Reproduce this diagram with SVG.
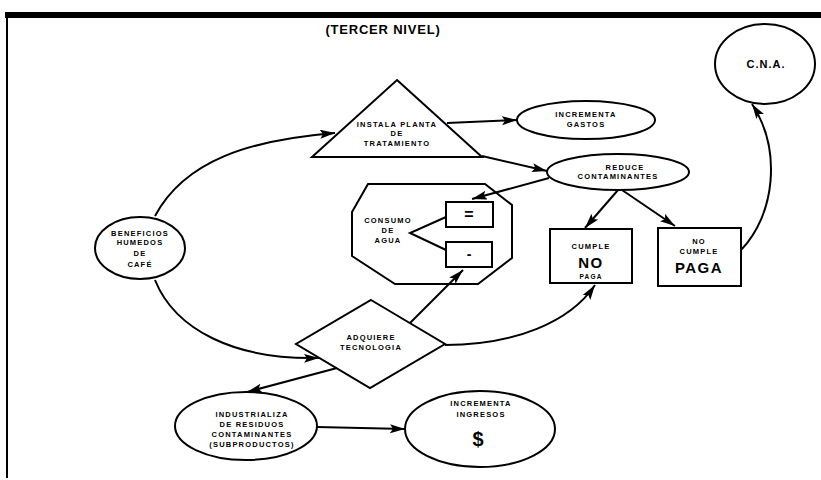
<svg xmlns="http://www.w3.org/2000/svg" width="821" height="480" viewBox="0 0 821 480">
<defs>
<marker id="ah" markerUnits="userSpaceOnUse" markerWidth="16" markerHeight="10" refX="15" refY="4.5" orient="auto">
<path d="M0,0 L15,4.5 L0,9 L3,4.5 z" fill="#000"/>
</marker>
<style>
.s{fill:#fff;stroke:#000;stroke-width:2}
.c{fill:none;stroke:#000;stroke-width:2}
.t{font-family:"Liberation Sans",Arial,sans-serif;font-weight:bold;font-size:7.5px;letter-spacing:1.2px;text-anchor:middle;fill:#000}
.b{font-family:"Liberation Sans",Arial,sans-serif;font-weight:bold;font-size:15px;letter-spacing:1.5px;text-anchor:middle;fill:#000}
</style>
</defs>
<rect width="821" height="480" fill="#fff"/>
<g id="frame">
<rect x="5" y="12" width="816" height="6" fill="#000"/>
<line x1="7" y1="14" x2="7" y2="478" stroke="#000" stroke-width="2"/>
</g>
<g id="title">
<text x="383" y="34" style="font-family:'Liberation Sans',Arial,sans-serif;font-weight:bold;font-size:13px;letter-spacing:0.8px;text-anchor:middle">(TERCER NIVEL)</text>
</g>
<g id="cna">
<ellipse class="s" cx="765" cy="64" rx="50" ry="40"/>
<text x="766" y="68" style="font-family:'Liberation Sans',Arial,sans-serif;font-weight:bold;font-size:11px;letter-spacing:1px;text-anchor:middle">C.N.A.</text>
</g>
<g id="instala">
<polygon class="s" points="397,80 482,157 312,157"/>
<text class="t" x="397" y="127">INSTALA PLANTA</text>
<text class="t" x="397" y="136">DE</text>
<text class="t" x="397" y="146">TRATAMIENTO</text>
</g>
<g id="gastos">
<ellipse class="s" cx="586" cy="120" rx="69" ry="19"/>
<text class="t" x="586" y="117">INCREMENTA</text>
<text class="t" x="586" y="127">GASTOS</text>
</g>
<g id="reduce">
<ellipse class="s" cx="618" cy="172" rx="71" ry="18"/>
<text class="t" x="625" y="170">REDUCE</text>
<text class="t" x="618" y="179">CONTAMINANTES</text>
</g>
<g id="consumo">
<polygon class="s" points="368,184 485,184 512,205 512,258 478,284 395,284 352,256 352,212"/>
<text class="t" x="388" y="223">CONSUMO</text>
<text class="t" x="388" y="233">DE</text>
<text class="t" x="388" y="243">AGUA</text>
</g>
<g id="igual">
<rect class="s" x="446" y="202" width="47" height="25"/>
<text x="469" y="220" style="font-family:'Liberation Sans',Arial,sans-serif;font-weight:bold;font-size:16px;text-anchor:middle">=</text>
</g>
<g id="menos">
<rect class="s" x="446" y="242" width="46" height="25"/>
<text x="469" y="259" style="font-family:'Liberation Sans',Arial,sans-serif;font-weight:bold;font-size:14px;text-anchor:middle">-</text>
</g>
<g id="cumple">
<rect class="s" x="550" y="229" width="82" height="54"/>
<text class="t" x="591" y="249">CUMPLE</text>
<text class="b" x="591" y="268">NO</text>
<text class="t" x="591" y="279" style="font-size:6.5px">PAGA</text>
</g>
<g id="nocumple">
<rect class="s" x="658" y="228" width="83" height="58"/>
<text class="t" x="699" y="244">NO</text>
<text class="t" x="699" y="254">CUMPLE</text>
<text class="b" x="699" y="273">PAGA</text>
</g>
<g id="beneficios">
<ellipse class="s" cx="140" cy="248" rx="45" ry="31"/>
<text class="t" x="140" y="236">BENEFICIOS</text>
<text class="t" x="140" y="245">HUMEDOS</text>
<text class="t" x="140" y="256">DE</text>
<text class="t" x="140" y="267">CAFÉ</text>
</g>
<g id="adquiere">
<polygon class="s" points="371,300 445,344 370,388 296,344"/>
<text class="t" x="371" y="340">ADQUIERE</text>
<text class="t" x="371" y="350">TECNOLOGIA</text>
</g>
<g id="industrializa">
<ellipse class="s" cx="246" cy="426" rx="71" ry="34"/>
<text class="t" x="252" y="417">INDUSTRIALIZA</text>
<text class="t" x="252" y="427">DE RESIDUOS</text>
<text class="t" x="252" y="437">CONTAMINANTES</text>
<text class="t" x="252" y="447">(SUBPRODUCTOS)</text>
</g>
<g id="ingresos">
<ellipse class="s" cx="480" cy="429" rx="75" ry="38"/>
<text class="t" x="481" y="406">INCREMENTA</text>
<text class="t" x="481" y="417">INGRESOS</text>
<text x="478" y="446" style="font-family:'Liberation Sans',Arial,sans-serif;font-weight:bold;font-size:20px;text-anchor:middle">$</text>
</g>
<g id="connectors">
<path class="c" d="M155,216 C185,160 250,140 335,133" marker-end="url(#ah)"/>
<path class="c" d="M447,123 L517,120" marker-end="url(#ah)"/>
<path class="c" d="M482,156 L547,171" marker-end="url(#ah)"/>
<path class="c" d="M549,178 L472,199" marker-end="url(#ah)"/>
<path class="c" d="M618,190 L585,228" marker-end="url(#ah)"/>
<path class="c" d="M622,190 L675,226" marker-end="url(#ah)"/>
<path class="c" d="M741,250 C775,215 782,150 752,104" marker-end="url(#ah)"/>
<path class="c" d="M155,280 C175,330 235,360 319,358" marker-end="url(#ah)"/>
<path class="c" d="M410,323 L463,270" marker-end="url(#ah)"/>
<path class="c" d="M337,368 L247,392" marker-end="url(#ah)"/>
<path class="c" d="M445,345 C515,345 570,322 595,285" marker-end="url(#ah)"/>
<path class="c" d="M317,427 L405,429" marker-end="url(#ah)"/>
<path class="c" d="M446,217 L410,233 L446,250"/>
</g>
</svg>
